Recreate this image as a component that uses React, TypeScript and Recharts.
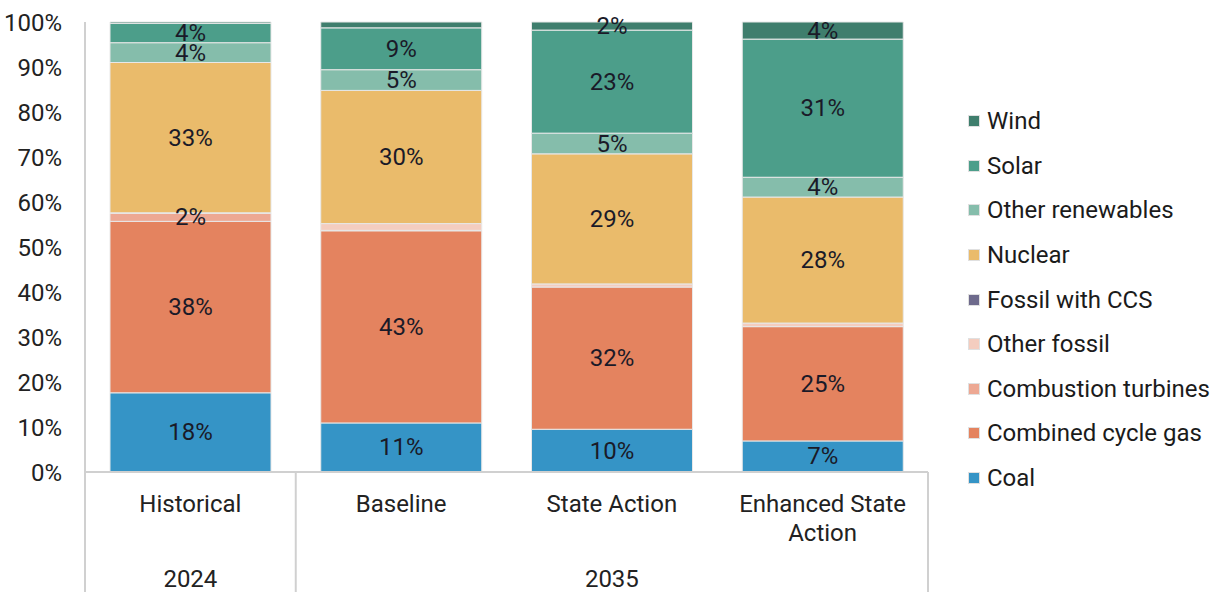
import { BarChart, Bar, XAxis, YAxis, LabelList } from 'recharts';

const categories = ['Historical', 'Baseline', 'State Action', 'Enhanced State Action'];
const groups = ['2024', '2035', '2035', '2035'];

// shares of generation, percent
const coal = [17.6, 10.9, 9.5, 6.9];
const combinedCycleGas = [38.1, 42.7, 31.6, 25.4];
const combustionTurbines = [1.8, 0.1, 0, 0];
const otherFossil = [0.1, 1.5, 0.7, 0.8];
const fossilWithCcs = [0, 0, 0, 0];
const nuclear = [33.4, 29.6, 28.9, 28.0];
const otherRenewables = [4.4, 4.6, 4.6, 4.4];
const solar = [4.3, 9.3, 22.9, 30.7];
const wind = [0.3, 1.3, 1.8, 3.8];

const yTicks = [0, 10, 20, 30, 40, 50, 60, 70, 80, 90, 100];

const series = [
  { key: 'coal', name: 'Coal', values: coal, color: '#3594c6' },
  { key: 'ccg', name: 'Combined cycle gas', values: combinedCycleGas, color: '#e4835f' },
  { key: 'ct', name: 'Combustion turbines', values: combustionTurbines, color: '#eda893' },
  { key: 'of', name: 'Other fossil', values: otherFossil, color: '#f4cdbf' },
  { key: 'ccs', name: 'Fossil with CCS', values: fossilWithCcs, color: '#6e6a8c' },
  { key: 'nuclear', name: 'Nuclear', values: nuclear, color: '#eabb6b' },
  { key: 'or', name: 'Other renewables', values: otherRenewables, color: '#85bdab' },
  { key: 'solar', name: 'Solar', values: solar, color: '#4c9e8a' },
  { key: 'wind', name: 'Wind', values: wind, color: '#3f7e6d' },
];

const data = categories.map((name, i) => {
  const row: Record<string, any> = { name, group: groups[i] };
  series.forEach((s) => (row[s.key] = s.values[i]));
  return row;
});

const W = 1211;
const H = 592;
const LEFT = 85;
const RIGHT = 283;
const AXIS_Y = 472;
const LINE = '#d0d0d0';
const FS = 24;

function SegmentLabel(props: any) {
  const { x, y, width, height, value } = props;
  if (value == null || value < 1.7) return null;
  return (
    <text
      x={x + width / 2}
      y={y + height / 2}
      textAnchor="middle"
      dominantBaseline="central"
      fontSize={FS}
      fill="#1a1a28"
    >
      {Math.round(value)}%
    </text>
  );
}

function CategoryTick(props: any) {
  const { x, payload, index } = props;
  const half = payload.offset || (W - LEFT - RIGHT) / categories.length / 2;
  const band = half * 2;
  const plotLeft = x - half - index * band;
  const words = String(payload.value).split(' ');
  const lines = words.length > 2 ? [words.slice(0, 2).join(' '), words.slice(2).join(' ')] : [payload.value];

  const extras: any[] = [];
  if (index === 0) {
    // group separators and group labels, drawn once
    const seen: string[] = [];
    groups.forEach((g, i) => {
      if (seen.includes(g)) return;
      seen.push(g);
      const first = groups.indexOf(g);
      const last = groups.lastIndexOf(g);
      const gx0 = plotLeft + first * band;
      const gx1 = plotLeft + (last + 1) * band;
      extras.push(
        <line key={'l' + i} x1={gx0} x2={gx0} y1={AXIS_Y} y2={H} stroke={LINE} strokeWidth={2} />
      );
      if (last === groups.length - 1) {
        extras.push(
          <line key={'r' + i} x1={gx1} x2={gx1} y1={AXIS_Y} y2={H} stroke={LINE} strokeWidth={2} />
        );
      }
      extras.push(
        <text key={'g' + i} x={(gx0 + gx1) / 2} y={587} textAnchor="middle" fontSize={FS} fill="#222">
          {g}
        </text>
      );
    });
  }

  return (
    <g>
      {extras}
      {lines.map((t: string, i: number) => (
        <text key={i} x={x} y={512 + i * 29} textAnchor="middle" fontSize={FS} fill="#222">
          {t}
        </text>
      ))}
    </g>
  );
}

export default function App() {
  return (
    <div
      style={{
        position: 'absolute',
        left: 0,
        top: 0,
        width: W,
        height: H,
        fontFamily: 'Roboto, sans-serif',
        background: '#fff',
      }}
    >
      <BarChart
        width={W}
        height={H}
        data={data}
        margin={{ top: 22, right: RIGHT, left: 5, bottom: 0 }}
        barSize={161}
      >
        <YAxis
          width={80}
          domain={[0, 100]}
          ticks={yTicks}
          tickFormatter={(v) => `${v}%`}
          tickLine={false}
          tickSize={0}
          tickMargin={23}
          axisLine={{ stroke: LINE, strokeWidth: 2 }}
          tick={{ fontSize: FS, fill: '#222' }}
          interval={0}
        />
        <XAxis
          dataKey="name"
          height={120}
          tickLine={false}
          tickSize={0}
          axisLine={{ stroke: LINE, strokeWidth: 2 }}
          tick={<CategoryTick />}
          interval={0}
        />
        {series.map((s) => (
          <Bar
            key={s.key}
            dataKey={s.key}
            name={s.name}
            stackId="a"
            fill={s.color}
            stroke="#e8e8e8"
            strokeWidth={1}
            isAnimationActive={false}
          >
            <LabelList dataKey={s.key} content={<SegmentLabel />} />
          </Bar>
        ))}
      </BarChart>
      <div style={{ position: 'absolute', left: 966, top: 99 }}>
        {[...series].reverse().map((s) => (
          <div
            key={s.key}
            style={{
              height: 44.6,
              display: 'flex',
              alignItems: 'center',
              fontSize: FS,
              color: '#1b1b1b',
              whiteSpace: 'nowrap',
            }}
          >
            <span
              style={{
                width: 12,
                height: 12,
                background: s.color,
                border: '1px solid #e0e0e0',
                boxSizing: 'border-box',
                marginRight: 7,
                marginLeft: 2,
              }}
            />
            {s.name}
          </div>
        ))}
      </div>
    </div>
  );
}
